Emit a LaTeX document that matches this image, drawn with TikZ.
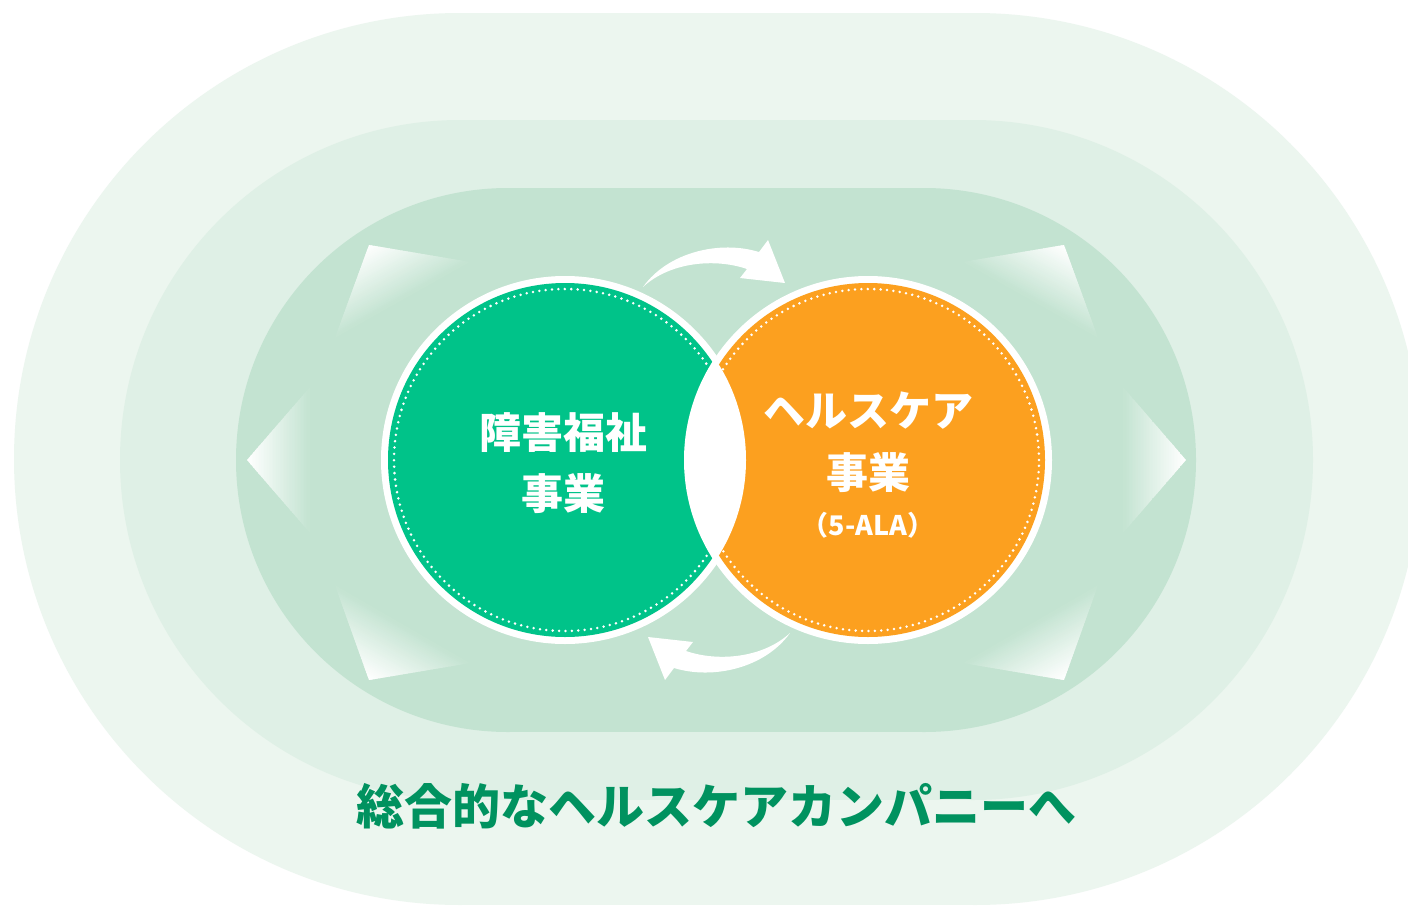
\documentclass[tikz,border=0pt]{standalone}
\usepackage{fontspec}
\newfontfamily\jp{Noto Sans CJK JP}
\definecolor{ringA}{HTML}{ECF6EF}
\definecolor{ringB}{HTML}{DFF0E6}
\definecolor{ringC}{HTML}{C3E3D1}
\definecolor{welfare}{HTML}{00C389}
\definecolor{health}{HTML}{FCA01F}
\definecolor{titlegreen}{HTML}{00925F}

% gradient triangle: #1 white corner, #2 #3 other vertices, #4 canvas angle of fade, #5 depth
\newcommand\glowtri[5]{%
  \begin{scope}
    \clip #1 -- #2 -- #3 -- cycle;
    \begin{scope}[shift={#1}, rotate=#4]
      \foreach \i in {0,...,39}{
        \pgfmathsetmacro\pc{100-2.5*\i}
        \fill[white!\pc!ringC] ({\i*#5/40},-300) rectangle ({(\i+1)*#5/40+0.8},300);
      }
    \end{scope}
  \end{scope}}

\newcommand\cyclearrow{%
  \fill[white] (643,287) .. controls (668,252) and (720,240) .. (759,252)
    -- (768,240) -- (785,283) -- (740,278) -- (747,269)
    .. controls (715,258) and (670,262) .. (643,287) -- cycle;}

\begin{document}
\begin{tikzpicture}[x=1pt,y=-1pt,
  lbl/.style={text=white, font=\jp\bfseries\fontsize{42}{42}\selectfont, inner sep=0pt, anchor=base},
  sublbl/.style={text=white, font=\jp\bfseries\fontsize{27}{27}\selectfont, inner sep=0pt, anchor=base},
  titlelbl/.style={text=titlegreen, font=\jp\bfseries\fontsize{48}{48}\selectfont, inner sep=0pt, anchor=base},
  dots/.style={white, line width=2.8pt, line cap=round, dash pattern=on 0pt off 6.4pt}]
\useasboundingbox (0,0) rectangle (1408,905);
\clip (0,0) rectangle (1408,905);
\fill[white] (0,0) rectangle (1408,905);

% nested stadium bands
\fill[ringA] (460,459) circle[radius=446pt];
\fill[ringA] (975,459) circle[radius=446pt];
\fill[ringA] (460,13) rectangle (975,905);

\fill[ringB] (460,460) circle[radius=340pt];
\fill[ringB] (973,460) circle[radius=340pt];
\fill[ringB] (460,120) rectangle (973,800);

\fill[ringC] (508,460) circle[radius=272pt];
\fill[ringC] (924,460) circle[radius=272pt];
\fill[ringC] (508,188) rectangle (924,732);

% outward glowing pointers (left side, then mirrored)
\glowtri{(247,460)}{(311,386)}{(311,534)}{0}{62}
\glowtri{(369,245)}{(470,262)}{(335,338)}{-60.6}{64}
\glowtri{(369,680)}{(470,663)}{(335,585)}{60}{65}
\begin{scope}[shift={(1433,0)}, xscale=-1]
  \glowtri{(247,460)}{(311,386)}{(311,534)}{0}{62}
  \glowtri{(369,245)}{(470,262)}{(335,338)}{-60.6}{64}
  \glowtri{(369,680)}{(470,663)}{(335,585)}{60}{65}
\end{scope}

% cycle arrows
\cyclearrow
\begin{scope}[rotate around={180:(716.5,460)}]
  \cyclearrow
\end{scope}

% circles
\fill[white] (565,460) circle[radius=184pt];
\fill[welfare] (565,460) circle[radius=177pt];
\draw[dots] (565,460) circle[radius=171pt];

\fill[white] (868,460) circle[radius=184pt];
\fill[health] (868,460) circle[radius=177pt];
\draw[dots] (868,460) circle[radius=171pt];

% overlap lens
\begin{scope}
  \clip (565,460) circle[radius=181pt];
  \fill[white] (868,460) circle[radius=181pt];
\end{scope}

% labels
\node[lbl] (w1) at (563,448) {障害福祉};
\node[lbl] (w2) at (563,509) {事業};
\node[lbl] (h1) at (868,426) {ヘルスケア};
\node[lbl] (h2) at (868,488) {事業};
\node[sublbl] (h3) at (868,535) {（5-ALA）};
\node[titlelbl] (title) at (716,824) {総合的なヘルスケアカンパニーへ};
\end{tikzpicture}
\end{document}
